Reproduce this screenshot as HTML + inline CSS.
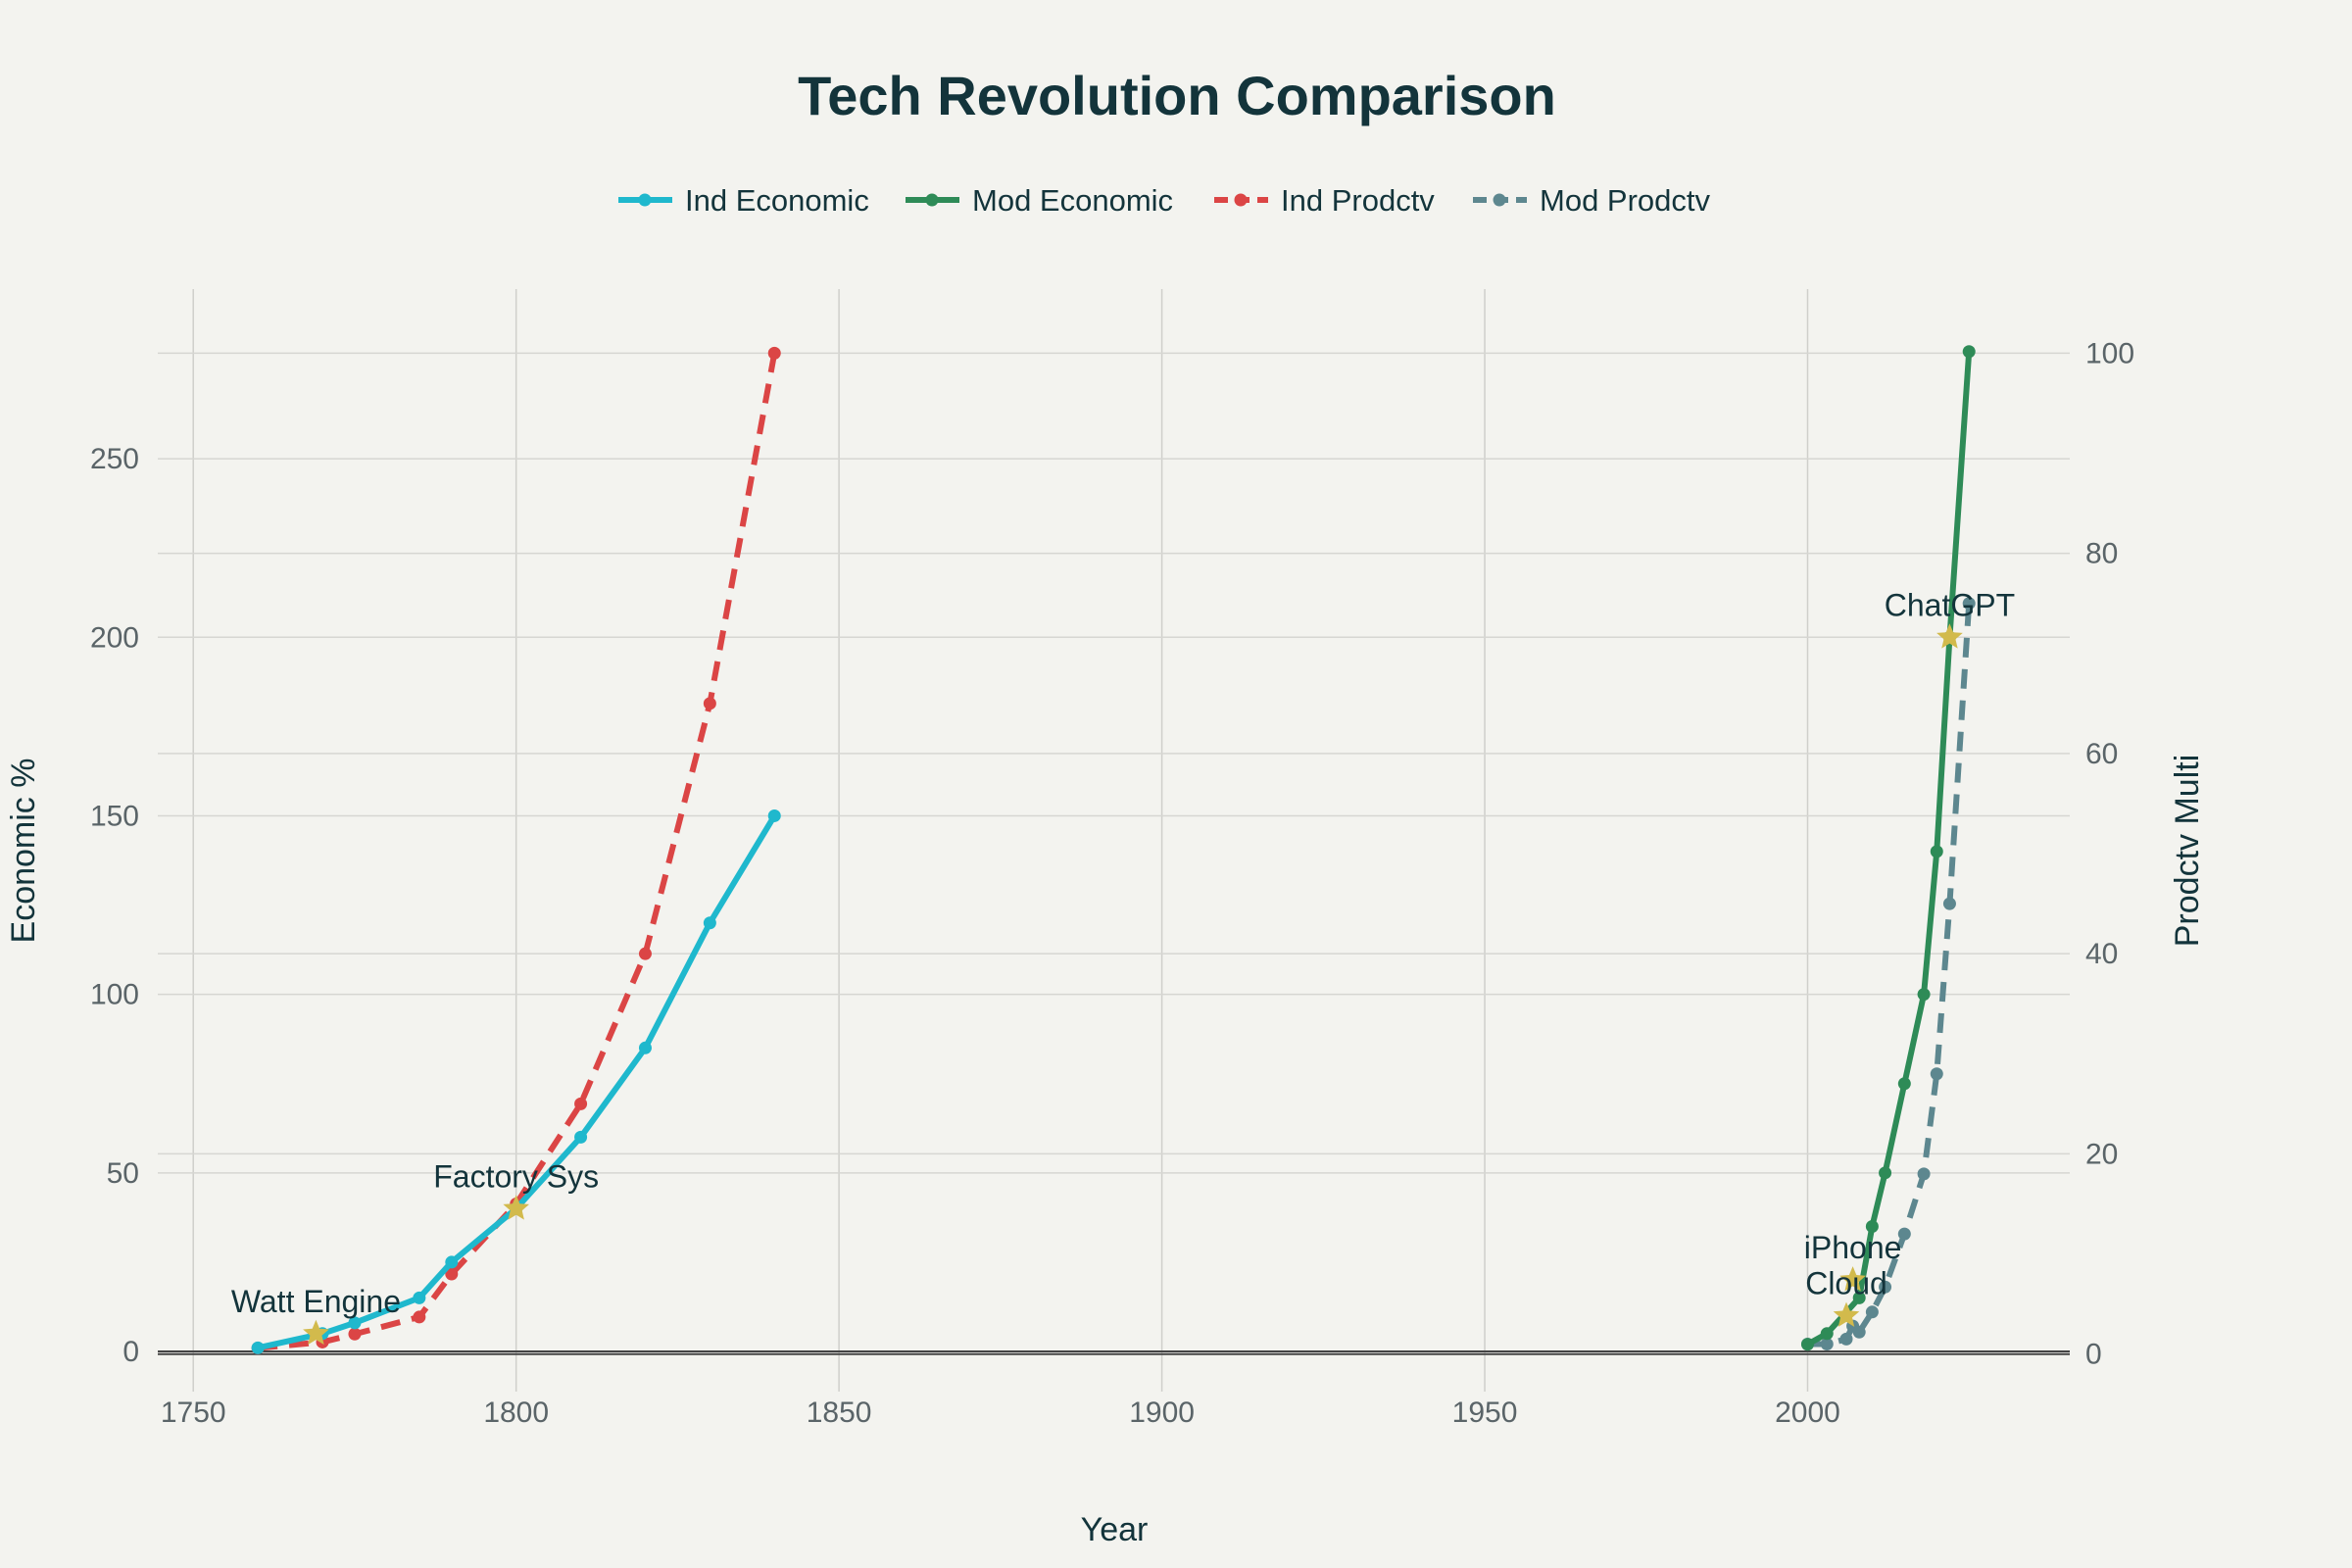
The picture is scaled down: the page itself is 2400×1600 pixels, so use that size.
<!DOCTYPE html>
<html><head><meta charset="utf-8"><style>
html,body{margin:0;padding:0;background:#f3f3ef;}
svg{display:block;font-family:"Liberation Sans",sans-serif;}
</style></head><body>
<svg id="chart" width="2400" height="1600" viewBox="0 0 2400 1600">
<rect width="2400" height="1600" fill="#f3f3ef"/>
<text x="1201" y="117" text-anchor="middle" font-size="56" font-weight="bold" fill="#13343b">Tech Revolution Comparison</text>
<g id="grid"></g>
<g id="series"></g>
<g id="legend"></g>
<text x="1137" y="1572" text-anchor="middle" font-size="34" fill="#13343b">Year</text>
<text transform="translate(35,868) rotate(-90)" text-anchor="middle" font-size="34" fill="#13343b">Economic %</text>
<text transform="translate(2243,868) rotate(-90)" text-anchor="middle" font-size="34" fill="#13343b">Prodctv Multi</text>
</svg>
<script>
const indYears=[1760,1770,1775,1785,1790,1800,1810,1820,1830,1840];
const indEconomic=[1,5,8,15,25,40,60,85,120,150];
const indProdctv=[0.6,1.2,2,3.7,8,15,25,40,65,100];
const modYears=[2000,2003,2006,2007,2008,2010,2012,2015,2018,2020,2022,2025];
const modEconYears=[2000,2003,2008,2010,2012,2015,2018,2020,2022,2025];
const modEconomic=[2,5,15,35,50,75,100,140,200,280];
const modProdctv=[1,1,1.5,2.8,2.2,4.2,6.7,12,18,28,45,75];
const eventYears=[1769,1800,2007,2006,2022];
const eventValues=[5,40,20,10,200];
const eventLabels=["Watt Engine","Factory Sys","iPhone","Cloud","ChatGPT"];
const xTicks=[1750,1800,1850,1900,1950,2000];
const yLeftTicks=[0,50,100,150,200,250];
const yRightTicks=[0,20,40,60,80,100];

const NS="http://www.w3.org/2000/svg";
const PL=161,PR=2112,PT=295,PB=1420;
const xMin=1744.5,xMax=2040.6;
const lMin=-11.25,lMax=297.5;
const rMin=-3.75,rMax=106.4;
const X=v=>PL+(v-xMin)/(xMax-xMin)*(PR-PL);
const YL=v=>PB-(v-lMin)/(lMax-lMin)*(PB-PT);
const YR=v=>PB-(v-rMin)/(rMax-rMin)*(PB-PT);
function mk(tag,attrs,parent){const e=document.createElementNS(NS,tag);for(const k in attrs)e.setAttribute(k,attrs[k]);parent.appendChild(e);return e;}
const grid=document.getElementById('grid'),ser=document.getElementById('series'),leg=document.getElementById('legend');

xTicks.forEach(t=>{
  const l=mk('line',{x1:X(t),x2:X(t),y1:PT,y2:PB,stroke:'#cfcfcb','stroke-width':1.5},grid);
  
  
  const tx=mk('text',{x:X(t),y:1451,'text-anchor':'middle','font-size':30,fill:'#5a6468'},grid);
  tx.textContent=t;
  
  
});
yLeftTicks.forEach(t=>{
  if(t!==0){const l=mk('line',{x1:PL,x2:PR,y1:YL(t),y2:YL(t),stroke:'#d6d6d2','stroke-width':1.5},grid);
  
  }
  const tx=mk('text',{x:142,y:YL(t)+10,'text-anchor':'end','font-size':30,fill:'#5a6468'},grid);
  tx.textContent=t;
  
  
});
yRightTicks.forEach(t=>{
  if(t!==0){const l=mk('line',{x1:PL,x2:PR,y1:YR(t),y2:YR(t),stroke:'#d6d6d2','stroke-width':1.5},grid);
  
  }
  const tx=mk('text',{x:2128,y:YR(t)+10,'text-anchor':'start','font-size':30,fill:'#5a6468'},grid);
  tx.textContent=t;
  
  
});
const z1=mk('line',{x1:PL,x2:PR,y1:YL(0),y2:YL(0),stroke:'#444',"stroke-width":2},grid);


const z2=mk('line',{x1:PL,x2:PR,y1:YR(0),y2:YR(0),stroke:'#444',"stroke-width":2},grid);



function series(xs,ys,yf,color,dash,name){
  const g=mk('g',{},ser);
  
  
  const pts=xs.map((x,i)=>X(x)+','+yf(ys[i])).join(' ');
  const a={points:pts,fill:'none',stroke:color,'stroke-width':6,'stroke-linejoin':'round'};
  if(dash)a['stroke-dasharray']='20,12';
  const pl=mk('polyline',a,g);
  
  
  xs.forEach((x,i)=>{const c=mk('circle',{cx:X(x),cy:yf(ys[i]),r:6.5,fill:color},g);
    
    });
}
series(indYears,indProdctv,YR,'#db4545',true,'ind-prodctv-series');
series(modYears,modProdctv,YR,'#5d878f',true,'mod-prodctv-series');
series(indYears,indEconomic,YL,'#1fb8cd',false,'ind-economic-series');
series(modEconYears,modEconomic,YL,'#2e8b57',false,'mod-economic-series');

function star(cx,cy,r){let p=[];for(let i=0;i<10;i++){const rr=i%2?r*0.45:r;const a=-Math.PI/2+i*Math.PI/5;p.push((cx+rr*Math.cos(a)).toFixed(1)+','+(cy+rr*Math.sin(a)).toFixed(1));}return p.join(' ');}
eventYears.forEach((y,i)=>{
  const s=mk('polygon',{points:star(X(y),YL(eventValues[i]),14),fill:'#d2ba4c'},ser);
  
  
  const t=mk('text',{x:X(y),y:YL(eventValues[i])-22,'text-anchor':'middle','font-size':32,fill:'#13343b'},ser);
  t.textContent=eventLabels[i];
  
  
});

const legItems=[["Ind Economic",'#1fb8cd',false,631],["Mod Economic",'#2e8b57',false,924],["Ind Prodctv",'#db4545',true,1239],["Mod Prodctv",'#5d878f',true,1503]];
legItems.forEach(it=>{
  const g=mk('g',{},leg);
  
  
  const a={x1:it[3],x2:it[3]+55,y1:204,y2:204,stroke:it[1],'stroke-width':6};
  if(it[2])a['stroke-dasharray']='14,8';
  mk('line',a,g);
  mk('circle',{cx:it[3]+27,cy:204,r:6.5,fill:it[1]},g);
  const t=mk('text',{x:it[3]+68,y:215,'font-size':31,fill:'#13343b'},g);
  t.textContent=it[0];
  
  
});
</script>
</body></html>
